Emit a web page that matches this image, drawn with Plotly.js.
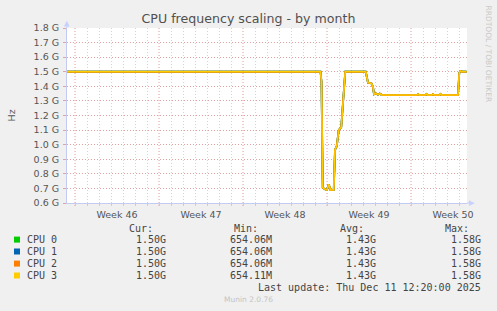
<!DOCTYPE html>
<html>
<head>
<meta charset="utf-8">
<script src="https://cdn.plot.ly/plotly-3.0.1.min.js"></script>
<style>
  html, body { margin: 0; padding: 0; background: #f0f0f0; }
  #chart { width: 497px; height: 311px; }
</style>
</head>
<body>
<div id="chart"></div>
<script>
// ---- data (frequencies in GHz) ----
const sampleTimes = [
  '2025-11-08 08:00', '2025-11-29 11:00', '2025-11-29 13:00', '2025-11-29 15:30',
  '2025-11-29 22:00', '2025-11-30 00:00', '2025-11-30 03:30', '2025-11-30 07:00',
  '2025-11-30 13:30', '2025-11-30 16:00', '2025-11-30 19:30', '2025-11-30 23:30',
  '2025-12-01 04:30', '2025-12-01 12:30', '2025-12-03 05:30', '2025-12-03 10:00',
  '2025-12-03 17:00', '2025-12-03 20:00', '2025-12-03 22:00', '2025-12-04 01:30',
  '2025-12-04 05:30', '2025-12-04 09:30', '2025-12-04 13:30', '2025-12-07 12:00',
  '2025-12-07 14:00', '2025-12-07 16:00', '2025-12-08 05:00', '2025-12-08 07:00',
  '2025-12-08 09:00', '2025-12-08 18:00', '2025-12-08 20:00', '2025-12-08 22:00',
  '2025-12-09 09:00', '2025-12-09 11:00', '2025-12-09 13:00', '2025-12-10 22:00',
  '2025-12-11 00:30', '2025-12-11 02:30', '2025-12-11 05:30', '2025-12-11 07:30',
  '2025-12-11 15:00'
];
const cpu0 = [
  1.50, 1.50, 1.43, 0.705,
  0.69, 0.69, 0.728, 0.69,
  0.69, 0.965, 0.99, 1.10,
  1.12, 1.50, 1.50, 1.425,
  1.42, 1.395, 1.345, 1.352,
  1.343, 1.350, 1.340, 1.340,
  1.347, 1.340, 1.340, 1.347,
  1.340, 1.340, 1.347, 1.340,
  1.340, 1.347, 1.340, 1.340,
  1.490, 1.505, 1.502, 1.500,
  1.500
];
const cpu1 = [
  1.50, 1.50, 1.43, 0.705,
  0.69, 0.69, 0.728, 0.69,
  0.69, 0.965, 0.99, 1.10,
  1.12, 1.50, 1.50, 1.425,
  1.42, 1.395, 1.345, 1.352,
  1.343, 1.350, 1.340, 1.340,
  1.347, 1.340, 1.340, 1.347,
  1.340, 1.340, 1.347, 1.340,
  1.340, 1.347, 1.340, 1.340,
  1.490, 1.505, 1.502, 1.500,
  1.500
];
const cpu2 = [
  1.50, 1.50, 1.43, 0.705,
  0.69, 0.69, 0.728, 0.69,
  0.69, 0.965, 0.99, 1.10,
  1.12, 1.50, 1.50, 1.425,
  1.42, 1.395, 1.345, 1.352,
  1.343, 1.350, 1.340, 1.340,
  1.347, 1.340, 1.340, 1.347,
  1.340, 1.340, 1.347, 1.340,
  1.340, 1.347, 1.340, 1.340,
  1.490, 1.505, 1.502, 1.500,
  1.500
];
const cpu3 = [
  1.50, 1.50, 1.43, 0.705,
  0.69, 0.69, 0.729, 0.69,
  0.69, 0.965, 0.99, 1.10,
  1.12, 1.50, 1.50, 1.425,
  1.42, 1.395, 1.345, 1.352,
  1.343, 1.350, 1.340, 1.340,
  1.347, 1.340, 1.340, 1.347,
  1.340, 1.340, 1.347, 1.340,
  1.340, 1.347, 1.340, 1.340,
  1.490, 1.505, 1.502, 1.500,
  1.500
];
const seriesNames = ['CPU 0', 'CPU 1', 'CPU 2', 'CPU 3'];
const seriesColors = ['#00cc00', '#0066b3', '#ff8000', '#ffcc00'];
const curVals = ['1.50G', '1.50G', '1.50G', '1.50G'];
const minVals = ['654.06M', '654.06M', '654.06M', '654.11M'];
const avgVals = ['1.43G', '1.43G', '1.43G', '1.43G'];
const maxVals = ['1.58G', '1.58G', '1.58G', '1.58G'];
const statHeaders = ['Cur:', 'Min:', 'Avg:', 'Max:'];

const xRange = ['2025-11-08 08:00', '2025-12-11 16:00'];
const weekStarts = ['2025-11-09', '2025-11-16', '2025-11-23', '2025-11-30', '2025-12-07'];
const weekCenters = ['2025-11-12 12:00', '2025-11-19 12:00', '2025-11-26 12:00', '2025-12-03 12:00', '2025-12-10 12:00'];
const weekLabels = ['Week 46', 'Week 47', 'Week 48', 'Week 49', 'Week 50'];
const yTickVals = [0.6, 0.7, 0.8, 0.9, 1.0, 1.1, 1.2, 1.3, 1.4, 1.5, 1.6, 1.7, 1.8];
const yTickText = ['0.6 G', '0.7 G', '0.8 G', '0.9 G', '1.0 G', '1.1 G', '1.2 G', '1.3 G', '1.4 G', '1.5 G', '1.6 G', '1.7 G', '1.8 G'];

// ---- layout helpers (pixel -> paper) ----
const W = 497, H = 311, ML = 67, MR = 30, MT = 28, MB = 108;
const PW = W - ML - MR, PH = H - MT - MB;
const px = p => (p - ML) / PW;
const py = p => (MT + PH - p) / PH;

const FONT = 'DejaVu Sans';
const MONO = 'DejaVu Sans Mono';
const TXT = '#555555';
const AXIS = '#c4cbf2';

const allSeries = [cpu0, cpu1, cpu2, cpu3];
const traces = allSeries.map((vals, i) => ({
  type: 'scatter', mode: 'lines', name: seriesNames[i],
  x: sampleTimes, y: vals,
  line: { color: seriesColors[i], width: i === 3 ? 1.5 : 1.8 },
  hoverinfo: 'skip'
}));

const shapes = [];
// week grid lines (red dotted)
weekStarts.forEach(d => shapes.push({
  type: 'line', xref: 'x', yref: 'paper', x0: d, x1: d, y0: py(206), y1: 1,
  line: { color: '#e6a0a0', width: 1, dash: '1px,2px' }, layer: 'below'
}));
// axis extensions and arrows
shapes.push({ type: 'line', xref: 'paper', yref: 'paper', x0: 1, x1: px(470), y0: 0, y1: 0,
  line: { color: AXIS, width: 1 } });
shapes.push({ type: 'line', xref: 'paper', yref: 'paper', x0: px(66.8), x1: px(66.8), y0: 1, y1: py(25),
  line: { color: AXIS, width: 1 } });
shapes.push({ type: 'path', xref: 'paper', yref: 'paper',
  path: `M ${px(469)} ${py(200.3)} L ${px(474.8)} ${py(203.2)} L ${px(469)} ${py(206.1)} Z`,
  fillcolor: '#c8d0ff', line: { width: 0 } });
shapes.push({ type: 'path', xref: 'paper', yref: 'paper',
  path: `M ${px(63.9)} ${py(26.5)} L ${px(66.8)} ${py(20.8)} L ${px(69.7)} ${py(26.5)} Z`,
  fillcolor: '#c8d0ff', line: { width: 0 } });
// legend colour squares
const rowY = [239.6, 251.5, 263.6, 275.5];
seriesColors.forEach((c, i) => {
  shapes.push({ type: 'rect', xref: 'paper', yref: 'paper',
    x0: px(14), x1: px(20), y0: py(rowY[i] - 3), y1: py(rowY[i] + 3),
    fillcolor: c, line: { width: 0 } });
});

const annotations = [];
const monoFont = { family: MONO, size: 10, color: '#444444' };
const headerRight = [154.3, 259.3, 365, 470];
statHeaders.forEach((h, j) => annotations.push({
  xref: 'paper', yref: 'paper', x: px(headerRight[j]), y: py(228), xanchor: 'right', yanchor: 'middle',
  text: h, showarrow: false, font: monoFont, borderpad: 0
}));
const colRight = [166.7, 272.7, 377, 482.3];
const cols = [curVals, minVals, avgVals, maxVals];
seriesNames.forEach((n, i) => {
  annotations.push({ xref: 'paper', yref: 'paper', x: px(26.3), y: py(rowY[i]), xanchor: 'left', yanchor: 'middle',
    text: n, showarrow: false, font: monoFont, borderpad: 0 });
  cols.forEach((col, j) => annotations.push({
    xref: 'paper', yref: 'paper', x: px(colRight[j]), y: py(rowY[i]), xanchor: 'right', yanchor: 'middle',
    text: col[i], showarrow: false, font: monoFont, borderpad: 0 }));
});
annotations.push({ xref: 'paper', yref: 'paper', x: px(482.3), y: py(287.3), xanchor: 'right', yanchor: 'middle',
  text: 'Last update: Thu Dec 11 12:20:00 2025', showarrow: false, font: monoFont, borderpad: 0 });
annotations.push({ xref: 'paper', yref: 'paper', x: px(248), y: py(299.3), xanchor: 'center', yanchor: 'middle',
  text: 'Munin 2.0.76', showarrow: false, font: { family: FONT, size: 7.5, color: '#c4c4c4' }, borderpad: 0 });
annotations.push({ xref: 'paper', yref: 'paper', x: px(488), y: py(53.5), xanchor: 'center', yanchor: 'middle',
  text: 'RRDTOOL / TOBI OETIKER', textangle: 90, showarrow: false,
  font: { family: FONT, size: 7.5, color: '#c8c8c8' }, borderpad: 0 });
annotations.push({ xref: 'paper', yref: 'paper', x: px(11), y: py(115.5), xanchor: 'center', yanchor: 'middle',
  text: 'Hz', textangle: -90, showarrow: false, font: { family: FONT, size: 9.5, color: TXT }, borderpad: 0 });

const layout = {
  width: W, height: H,
  margin: { l: ML, r: MR, t: MT, b: MB, pad: 0 },
  paper_bgcolor: '#f0f0f0', plot_bgcolor: '#ffffff',
  showlegend: false,
  title: { text: 'CPU frequency scaling - by month', x: 0.5, xref: 'container', xanchor: 'center',
    y: 1 - 19 / H, yref: 'container', yanchor: 'middle',
    font: { family: FONT, size: 12.6, color: '#505050' } },
  xaxis: {
    type: 'date', range: xRange, fixedrange: true,
    tickmode: 'array', tickvals: weekCenters, ticktext: weekLabels,
    ticks: '', showgrid: false, zeroline: false,
    showline: true, linecolor: AXIS, linewidth: 1,
    tickfont: { family: FONT, size: 9.5, color: TXT },
    ticklabelstandoff: 3,
    minor: { tickmode: 'linear', tick0: '2025-11-09', dtick: 86400000,
      showgrid: true, gridcolor: '#d4d4d4', griddash: '1px,2px', gridwidth: 1,
      ticks: 'outside', ticklen: 2, tickcolor: '#cccccc' }
  },
  yaxis: {
    range: [0.6, 1.8], fixedrange: true,
    tickmode: 'array', tickvals: yTickVals, ticktext: yTickText,
    showgrid: true, gridcolor: '#e6a0a0', griddash: '1px,2px', gridwidth: 1,
    zeroline: false, showline: true, linecolor: AXIS, linewidth: 1,
    ticks: 'outside', ticklen: 3, tickcolor: '#e6a0a0',
    tickfont: { family: FONT, size: 9.5, color: TXT },
    ticklabelstandoff: 2
  },
  shapes: shapes,
  annotations: annotations
};

Plotly.newPlot('chart', traces, layout, { staticPlot: true, displayModeBar: false });
</script>
</body>
</html>
